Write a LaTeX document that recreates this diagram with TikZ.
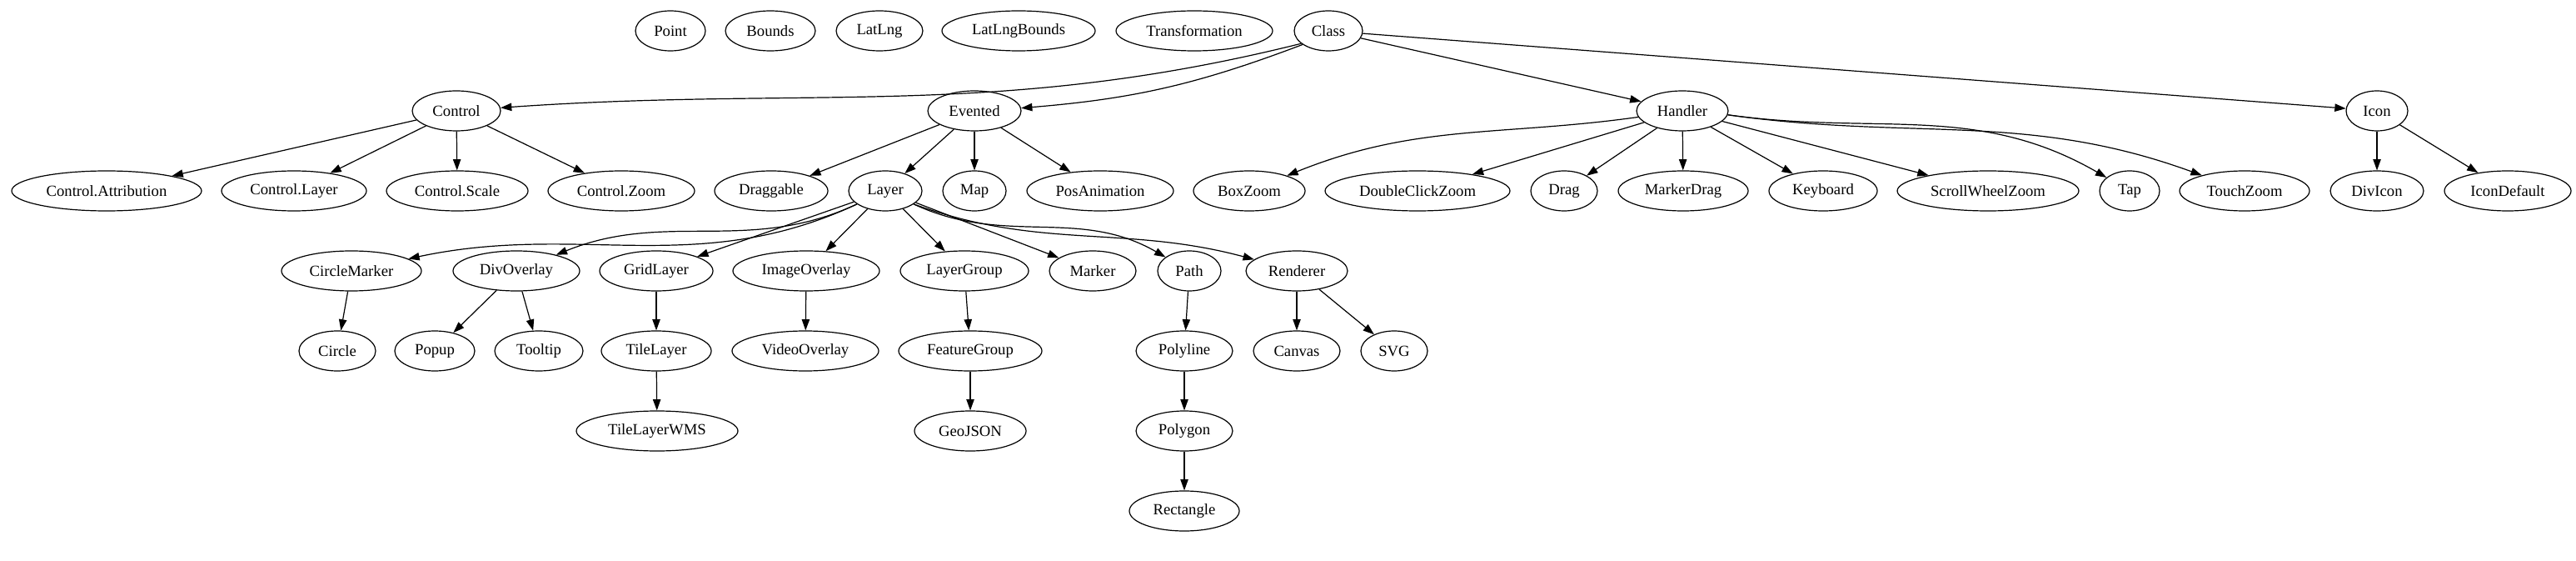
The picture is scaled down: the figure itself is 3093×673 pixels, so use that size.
\documentclass[tikz,border=0pt]{standalone}
\usepackage{fontspec}
\setmainfont{Liberation Serif}
\usetikzlibrary{shapes.geometric,arrows.meta}
\tikzset{
  cls/.style={draw,ellipse,minimum height=36pt,inner sep=0pt,line width=0.9pt,font=\fontsize{14}{16}\selectfont},
  inh/.style={-{Triangle[length=10pt,width=7pt]},line width=0.9pt}
}
\begin{document}
\begin{tikzpicture}[x=0.75pt,y=0.75pt]
\useasboundingbox (0,0) rectangle (3093,-673);

\node[cls,minimum width=63pt] (point) at (805,-37){Point};
\node[cls,minimum width=81pt] (bounds) at (925,-37){Bounds};
\node[cls,minimum width=78pt] (latlng) at (1056,-37){LatLng};
\node[cls,minimum width=138pt] (latlngbounds) at (1223,-37){LatLngBounds};
\node[cls,minimum width=141pt] (transformation) at (1434,-37){Transformation};
\node[cls,minimum width=61.5pt] (class) at (1595,-37){Class};

\node[cls,minimum width=79.5pt] (control) at (548,-133){Control};
\node[cls,minimum width=84pt] (evented) at (1170,-133){Evented};
\node[cls,minimum width=82.5pt] (handler) at (2020,-133){Handler};
\node[cls,minimum width=55.5pt] (icon) at (2854,-133){Icon};

\node[cls,minimum width=171pt] (attribution) at (128,-229){Control.Attribution};
\node[cls,minimum width=130.5pt] (ctrllayer) at (353,-229){Control.Layer};
\node[cls,minimum width=127.5pt] (scale) at (549,-229){Control.Scale};
\node[cls,minimum width=132pt] (zoom) at (746,-229){Control.Zoom};
\node[cls,minimum width=102pt] (draggable) at (926,-229){Draggable};
\node[cls,minimum width=66pt] (layer) at (1063,-229){Layer};
\node[cls,minimum width=57pt] (map) at (1170,-229){Map};
\node[cls,minimum width=132pt] (posanim) at (1321,-229){PosAnimation};
\node[cls,minimum width=100.5pt] (boxzoom) at (1500,-229){BoxZoom};
\node[cls,minimum width=166.5pt] (dblclick) at (1702,-229){DoubleClickZoom};
\node[cls,minimum width=60pt] (drag) at (1878,-229){Drag};
\node[cls,minimum width=117pt] (markerdrag) at (2021,-229){MarkerDrag};
\node[cls,minimum width=97.5pt] (keyboard) at (2189,-229){Keyboard};
\node[cls,minimum width=163.5pt] (scrollwheel) at (2387,-229){ScrollWheelZoom};
\node[cls,minimum width=54pt] (tap) at (2557,-229){Tap};
\node[cls,minimum width=117pt] (touchzoom) at (2695,-229){TouchZoom};
\node[cls,minimum width=84pt] (divicon) at (2854,-229){DivIcon};
\node[cls,minimum width=114pt] (icondefault) at (3011,-229){IconDefault};

\node[cls,minimum width=126pt] (circlemarker) at (422,-325){CircleMarker};
\node[cls,minimum width=114pt] (divoverlay) at (620,-325){DivOverlay};
\node[cls,minimum width=102pt] (gridlayer) at (788,-325){GridLayer};
\node[cls,minimum width=132pt] (imageoverlay) at (968,-325){ImageOverlay};
\node[cls,minimum width=115.5pt] (layergroup) at (1158,-325){LayerGroup};
\node[cls,minimum width=78pt] (marker) at (1312,-325){Marker};
\node[cls,minimum width=57pt] (path) at (1428,-325){Path};
\node[cls,minimum width=91.5pt] (renderer) at (1557,-325){Renderer};

\node[cls,minimum width=69pt] (circle) at (405,-421){Circle};
\node[cls,minimum width=72pt] (popup) at (522,-421){Popup};
\node[cls,minimum width=79.5pt] (tooltip) at (647,-421){Tooltip};
\node[cls,minimum width=99pt] (tilelayer) at (788,-421){TileLayer};
\node[cls,minimum width=132pt] (videooverlay) at (967,-421){VideoOverlay};
\node[cls,minimum width=129pt] (featuregroup) at (1165,-421){FeatureGroup};
\node[cls,minimum width=87pt] (polyline) at (1422,-421){Polyline};
\node[cls,minimum width=78pt] (canvas) at (1557,-421){Canvas};
\node[cls,minimum width=60pt] (svg) at (1674,-421){SVG};

\node[cls,minimum width=145.5pt] (wms) at (789,-517){TileLayerWMS};
\node[cls,minimum width=100.5pt] (geojson) at (1165,-517){GeoJSON};
\node[cls,minimum width=87pt] (polygon) at (1422,-517){Polygon};

\node[cls,minimum width=99pt] (rectangle) at (1422,-613){Rectangle};

\draw[inh] (class.205) to[out=194,in=4] (control);
\draw[inh] (class.208) to[bend left=8] (evented);
\draw[inh] (class) -- (handler);
\draw[inh] (class) -- (icon);

\draw[inh] (control) -- (attribution);
\draw[inh] (control) -- (ctrllayer);
\draw[inh] (control) -- (scale);
\draw[inh] (control) -- (zoom);

\draw[inh] (evented) -- (draggable);
\draw[inh] (evented) -- (layer);
\draw[inh] (evented) -- (map);
\draw[inh] (evented) -- (posanim);

\draw[inh] (handler.188) to[out=188,in=22] (boxzoom);
\draw[inh] (handler) -- (dblclick);
\draw[inh] (handler) -- (drag);
\draw[inh] (handler) -- (markerdrag);
\draw[inh] (handler) -- (keyboard);
\draw[inh] (handler) -- (scrollwheel);
\draw[inh] (handler.355) to[out=-8,in=150] (tap);
\draw[inh] (handler.355) to[out=-8,in=160] (touchzoom);

\draw[inh] (icon) -- (divicon);
\draw[inh] (icon) -- (icondefault);

\draw[inh] (layer.205) to[out=205,in=12] (circlemarker);
\draw[inh] (layer.205) to[out=205,in=22] (divoverlay);
\draw[inh] (layer) -- (gridlayer);
\draw[inh] (layer) -- (imageoverlay);
\draw[inh] (layer) -- (layergroup);
\draw[inh] (layer) -- (marker);
\draw[inh] (layer.335) to[out=-25,in=150] (path);
\draw[inh] (layer.335) to[out=-20,in=165] (renderer);

\draw[inh] (circlemarker) -- (circle);
\draw[inh] (divoverlay) -- (popup);
\draw[inh] (divoverlay) -- (tooltip);
\draw[inh] (gridlayer) -- (tilelayer);
\draw[inh] (tilelayer) -- (wms);
\draw[inh] (imageoverlay) -- (videooverlay);
\draw[inh] (layergroup) -- (featuregroup);
\draw[inh] (featuregroup) -- (geojson);
\draw[inh] (path) -- (polyline);
\draw[inh] (polyline) -- (polygon);
\draw[inh] (polygon) -- (rectangle);
\draw[inh] (renderer) -- (canvas);
\draw[inh] (renderer) -- (svg);

\end{tikzpicture}
\end{document}
